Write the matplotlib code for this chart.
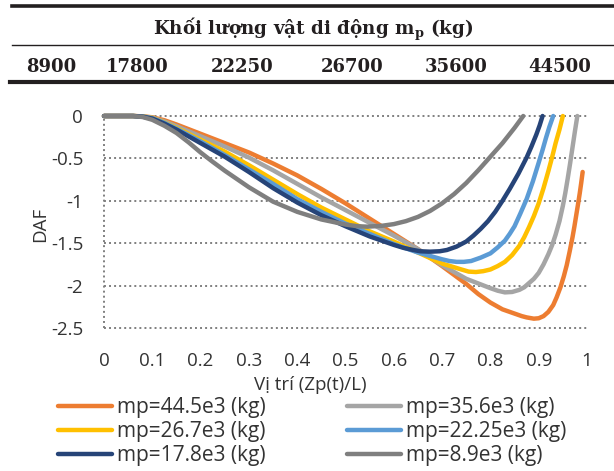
import matplotlib
matplotlib.use("Agg")
import matplotlib.pyplot as plt
from matplotlib.lines import Line2D

plt.rcParams['font.family'] = ['Open Sans', 'DejaVu Sans']
plt.rcParams['mathtext.fontset'] = 'dejavuserif'

# masses shown in the table above the chart
mass_values = ["8900", "17800", "22250", "26700", "35600", "44500"]
mass_x_px = [51, 137, 242, 352, 456, 560]

# DAF curves (x = Zp(t)/L)
x_445 = [0, 0.06, 0.08, 0.1, 0.125, 0.15, 0.175, 0.2, 0.25, 0.3, 0.35, 0.4, 0.45, 0.5, 0.55, 0.6,
         0.65, 0.7, 0.75, 0.775, 0.8, 0.825, 0.85, 0.865, 0.875, 0.89, 0.9, 0.91, 0.92, 0.93,
         0.937, 0.945, 0.952, 0.958, 0.964, 0.97, 0.974, 0.978, 0.982, 0.985, 0.988, 0.991]
y_445 = [0, 0, -0.004, -0.015, -0.05, -0.10, -0.155, -0.21, -0.32, -0.43, -0.56, -0.70, -0.86, -1.03, -1.21, -1.39,
         -1.57, -1.77, -1.98, -2.10, -2.20, -2.28, -2.33, -2.36, -2.375, -2.39, -2.385, -2.36, -2.31, -2.23,
         -2.14, -2.02, -1.89, -1.76, -1.60, -1.43, -1.30, -1.16, -1.02, -0.91, -0.79, -0.66]

x_356 = [0, 0.06, 0.08, 0.1, 0.125, 0.15, 0.175, 0.2, 0.25, 0.3, 0.35, 0.4, 0.45, 0.5, 0.55, 0.6,
         0.65, 0.7, 0.75, 0.8, 0.815, 0.83, 0.845, 0.86, 0.87, 0.88, 0.89, 0.9, 0.91, 0.92,
         0.928, 0.935, 0.943, 0.95, 0.955, 0.96, 0.965, 0.97, 0.975, 0.98]
y_356 = [0, 0, -0.005, -0.02, -0.065, -0.12, -0.18, -0.24, -0.36, -0.49, -0.64, -0.80, -0.96, -1.11, -1.26, -1.41,
         -1.57, -1.76, -1.92, -2.03, -2.06, -2.08, -2.075, -2.05, -2.02, -1.97, -1.92, -1.85, -1.75, -1.63,
         -1.52, -1.40, -1.24, -1.06, -0.91, -0.74, -0.56, -0.37, -0.18, 0]

x_267 = [0, 0.06, 0.08, 0.1, 0.125, 0.15, 0.175, 0.2, 0.25, 0.3, 0.35, 0.4, 0.45, 0.5, 0.55, 0.6,
         0.65, 0.7, 0.74, 0.755, 0.77, 0.785, 0.8, 0.815, 0.83, 0.845, 0.86, 0.87, 0.88, 0.89,
         0.9, 0.91, 0.92, 0.928, 0.935, 0.943, 0.95]
y_267 = [0, 0, -0.006, -0.022, -0.075, -0.14, -0.21, -0.28, -0.42, -0.58, -0.75, -0.92, -1.08, -1.22, -1.36, -1.48,
         -1.61, -1.74, -1.81, -1.835, -1.84, -1.83, -1.81, -1.77, -1.72, -1.64, -1.53, -1.43, -1.31, -1.18,
         -1.03, -0.85, -0.65, -0.48, -0.32, -0.16, 0]

x_2225 = [0, 0.06, 0.08, 0.1, 0.125, 0.15, 0.175, 0.2, 0.25, 0.3, 0.35, 0.4, 0.45, 0.5, 0.55, 0.6,
          0.65, 0.7, 0.715, 0.73, 0.745, 0.76, 0.78, 0.8, 0.815, 0.83, 0.84, 0.85, 0.862, 0.875,
          0.888, 0.9, 0.908, 0.915, 0.922, 0.93]
y_2225 = [0, 0, -0.007, -0.025, -0.08, -0.15, -0.225, -0.30, -0.46, -0.63, -0.80, -0.98, -1.13, -1.27, -1.39, -1.51,
          -1.61, -1.69, -1.71, -1.72, -1.72, -1.71, -1.67, -1.62, -1.55, -1.47, -1.39, -1.30, -1.15, -0.98,
          -0.77, -0.55, -0.40, -0.26, -0.13, 0]

x_178 = [0, 0.06, 0.08, 0.1, 0.125, 0.15, 0.175, 0.2, 0.25, 0.3, 0.35, 0.4, 0.45, 0.5, 0.55, 0.6,
         0.62, 0.64, 0.655, 0.675, 0.695, 0.71, 0.73, 0.75, 0.765, 0.78, 0.795, 0.81, 0.825, 0.84,
         0.858, 0.875, 0.885, 0.895, 0.902, 0.908]
y_178 = [0, 0, -0.008, -0.03, -0.09, -0.16, -0.24, -0.32, -0.48, -0.66, -0.85, -1.02, -1.17, -1.30, -1.42, -1.52,
         -1.555, -1.58, -1.595, -1.60, -1.595, -1.58, -1.54, -1.48, -1.41, -1.33, -1.24, -1.13, -1.00, -0.86,
         -0.68, -0.49, -0.36, -0.22, -0.11, 0]

x_89 = [0, 0.06, 0.08, 0.1, 0.125, 0.15, 0.175, 0.2, 0.225, 0.25, 0.3, 0.35, 0.4, 0.45, 0.5, 0.525,
        0.545, 0.575, 0.6, 0.625, 0.65, 0.675, 0.7, 0.725, 0.75, 0.775, 0.8, 0.825, 0.85, 0.868]
y_89 = [0, 0, -0.012, -0.045, -0.115, -0.20, -0.31, -0.43, -0.54, -0.645, -0.84, -1.01, -1.13, -1.22, -1.28, -1.30,
        -1.305, -1.295, -1.275, -1.24, -1.19, -1.12, -1.03, -0.92, -0.79, -0.64, -0.48, -0.32, -0.14, 0]

labels = ["mp=44.5e3 (kg)", "mp=35.6e3 (kg)", "mp=26.7e3 (kg)",
          "mp=22.25e3 (kg)", "mp=17.8e3 (kg)", "mp=8.9e3 (kg)"]
colors = ["#ED7D31", "#A5A5A5", "#FFC000", "#5B9BD5", "#264478", "#7F7F7F"]

xticks = [0, 0.1, 0.2, 0.3, 0.4, 0.5, 0.6, 0.7, 0.8, 0.9, 1]
xtick_labels = ["0", "0.1", "0.2", "0.3", "0.4", "0.5", "0.6", "0.7", "0.8", "0.9", "1"]
yticks = [0, -0.5, -1, -1.5, -2, -2.5]
ytick_labels = ["0", "-0.5", "-1", "-1.5", "-2", "-2.5"]

W, H = 614, 471
fig = plt.figure(figsize=(W / 100, H / 100), dpi=100)

# --- table header above the chart ---
serif = dict(family='DejaVu Serif', weight='bold', color='#231F20')
fig.add_artist(Line2D([12 / W, 1], [1 - 5.5 / H] * 2, color='#231F20', lw=2.6))
fig.add_artist(Line2D([12 / W, 1], [1 - 45 / H] * 2, color='#231F20', lw=1.0))
fig.add_artist(Line2D([10 / W, 1], [1 - 82 / H] * 2, color='#231F20', lw=3.0))
fig.text(313 / W, 1 - 35 / H, r"Khối lượng vật di động m$_{\mathbf{p}}$ (kg)",
         ha='center', va='baseline', fontsize=13.2, **serif)
for xp, m in zip(mass_x_px, mass_values):
    fig.text(xp / W, 1 - 72 / H, m, ha='center', va='baseline', fontsize=13, **serif)

# --- chart ---
ax = fig.add_axes([104 / W, 1 - 328 / H, 483 / W, 212 / H])
series = [(x_445, y_445), (x_356, y_356), (x_267, y_267),
          (x_2225, y_2225), (x_178, y_178), (x_89, y_89)]
handles = []
for (xs, ys), c, lab in zip(series, colors, labels):
    h, = ax.plot(xs, ys, color=c, lw=3.2, label=lab, solid_capstyle='round',
                 solid_joinstyle='round', clip_on=False)
    handles.append(h)

ax.set_xlim(0, 1)
ax.set_ylim(-2.5, 0)
ax.hlines(yticks, 0, 1, colors='#7F7F7F', linestyles=(0, (1, 1.6)), lw=1.4,
          clip_on=False, zorder=0)
ax.vlines([0], -2.5, 0, colors='#7F7F7F', linestyles=(0, (1, 1.6)), lw=1.4,
          clip_on=False, zorder=0)
for s in ax.spines.values():
    s.set_visible(False)
ax.set_xticks(xticks)
ax.set_xticklabels(xtick_labels)
ax.set_yticks(yticks)
ax.set_yticklabels(ytick_labels)
ax.tick_params(length=0, labelsize=13.5, colors='#333333')
ax.tick_params(axis='x', pad=17)
ax.tick_params(axis='y', pad=15)

fig.text(310 / W, 1 - 385 / H, "Vị trí (Zp(t)/L)", ha='center', va='center',
         fontsize=13.5, color='#333333')
fig.text(40 / W, 1 - 224 / H, "DAF", rotation=90, ha='center', va='center',
         fontsize=13.5, color='#333333')

# legend is filled column by column, so reorder for row-wise reading
order = [0, 2, 4, 1, 3, 5]
fig.legend([handles[i] for i in order], [labels[i] for i in order], ncol=2,
           loc='upper left', bbox_to_anchor=(58 / W, 1 - 397.5 / H), frameon=False,
           fontsize=15, handlelength=2.6, handletextpad=0.24, columnspacing=3.9,
           labelspacing=0.14, borderpad=0, borderaxespad=0, labelcolor='#333333')

fig.savefig("out.png", dpi=100)
